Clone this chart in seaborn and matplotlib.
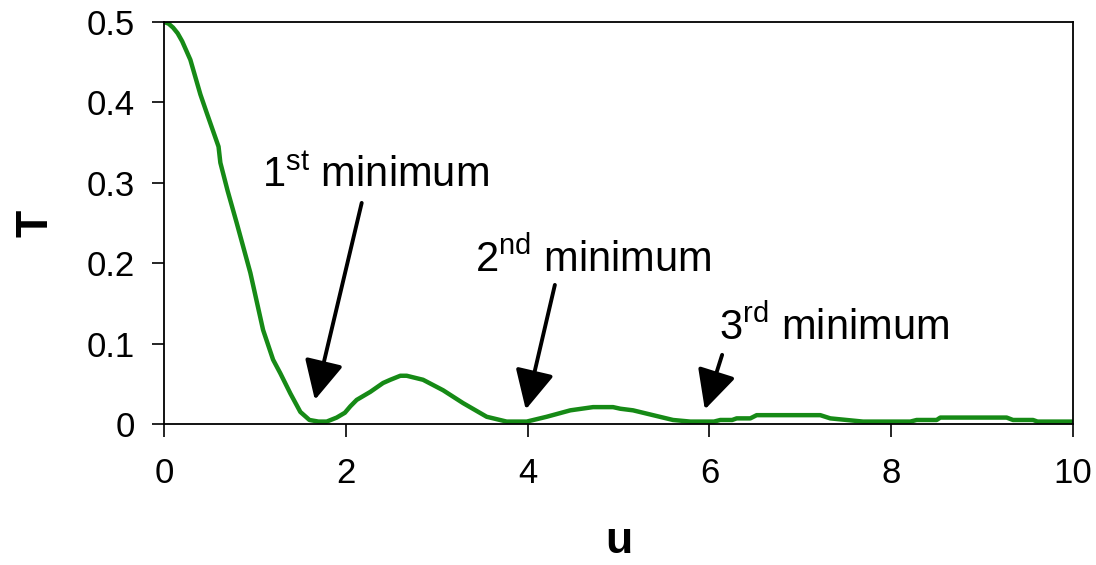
import matplotlib
matplotlib.use("Agg")
import matplotlib.pyplot as plt
import seaborn as sns

# values
u = [0, 0.05, 0.1, 0.15, 0.2, 0.29, 0.4, 0.47, 0.6, 0.62, 0.7, 0.8, 0.95, 1.09,
     1.2, 1.28, 1.39, 1.5, 1.6, 1.7, 1.79, 1.9, 1.99, 2.05, 2.12, 2.27, 2.41,
     2.49, 2.6, 2.67, 2.85, 3.07, 3.29, 3.55, 3.77, 3.99, 4.21, 4.47, 4.72,
     4.94, 5.02, 5.16, 5.38, 5.6, 5.79, 6.05, 6.12, 6.25, 6.3, 6.45, 6.52,
     7.22, 7.33, 7.51, 7.69, 8.21, 8.28, 8.5, 8.54, 9.27, 9.34, 9.56, 9.61, 10]
T = [0.5, 0.498, 0.493, 0.486, 0.476, 0.453, 0.41, 0.387, 0.345, 0.325, 0.29,
     0.25, 0.188, 0.117, 0.08, 0.063, 0.038, 0.015, 0.005, 0.003, 0.003, 0.008,
     0.014, 0.022, 0.03, 0.04, 0.051, 0.055, 0.06, 0.06, 0.055, 0.042, 0.026,
     0.009, 0.003, 0.003, 0.009, 0.017, 0.021, 0.021, 0.019, 0.017, 0.011,
     0.005, 0.003, 0.003, 0.005, 0.005, 0.007, 0.007, 0.011, 0.011, 0.007,
     0.005, 0.003, 0.003, 0.005, 0.005, 0.008, 0.008, 0.005, 0.005, 0.003, 0.003]

labels = ["1$^{\\mathrm{st}}$ minimum", "2$^{\\mathrm{nd}}$ minimum",
          "3$^{\\mathrm{rd}}$ minimum"]
label_pos = [(1.08, 0.295), (3.42, 0.189), (6.11, 0.105)]
arrow_from = [(2.175, 0.275), (4.30, 0.173), (6.14, 0.086)]
arrow_to = [(1.66, 0.030), (3.98, 0.018), (5.95, 0.018)]

sns.set_style("ticks")
plt.rcParams["font.family"] = ["Liberation Sans", "DejaVu Sans"]
plt.rcParams["mathtext.fontset"] = "custom"
plt.rcParams["mathtext.rm"] = "Liberation Sans"
plt.rcParams["text.color"] = "black"
plt.rcParams["axes.labelcolor"] = "black"

fig = plt.figure(figsize=(10.96, 5.65), dpi=100)
ax = fig.add_axes([164 / 1096, 1 - 424 / 565, (1073 - 164) / 1096, (424 - 22) / 565])

sns.lineplot(x=u, y=T, ax=ax, color="#168a16", linewidth=3.2)

ax.set_xlim(0, 10)
ax.set_ylim(0, 0.5)
ax.set_xticks([0, 2, 4, 6, 8, 10])
ax.set_yticks([0, 0.1, 0.2, 0.3, 0.4, 0.5])
ax.set_yticklabels(["0", "0.1", "0.2", "0.3", "0.4", "0.5"])
ax.tick_params(axis="both", direction="out", length=9, width=1.2,
               labelsize=25, colors="black")
ax.tick_params(axis="x", pad=15)
ax.tick_params(axis="y", pad=12)
for side in ax.spines.values():
    side.set_visible(True)
    side.set_linewidth(1.3)
    side.set_color("black")

ax.set_xlabel("u", fontsize=32, fontweight="bold", labelpad=22)
ax.set_ylabel("T", fontsize=32, fontweight="bold", labelpad=22)

for txt, pos in zip(labels, label_pos):
    ax.text(pos[0], pos[1], txt, fontsize=30, ha="left", va="baseline")
for a, b in zip(arrow_from, arrow_to):
    ax.annotate("", xy=b, xytext=a,
                arrowprops=dict(arrowstyle="-|>,head_length=1.2,head_width=0.6",
                                mutation_scale=20, color="black", lw=2.8,
                                shrinkA=0, shrinkB=0))

fig.savefig("out.png", dpi=100)
